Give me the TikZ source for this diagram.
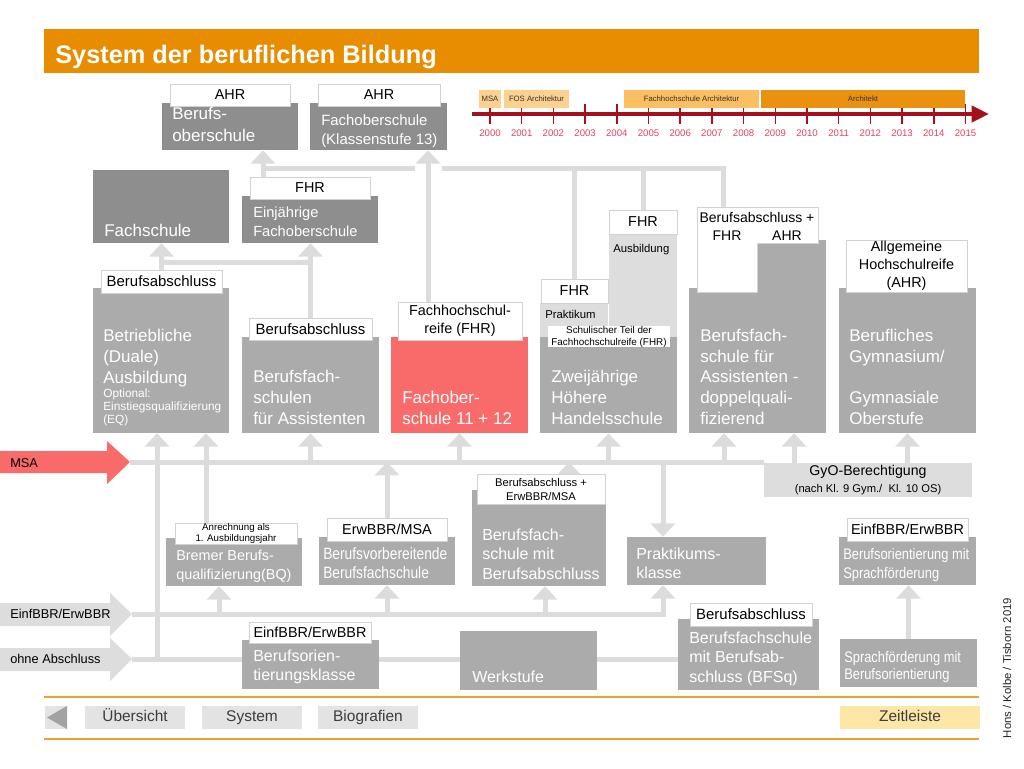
\documentclass[tikz,border=0pt]{standalone}
\usepackage{fontspec}
\setmainfont{Liberation Sans}
\newfontfamily\narrowfont[FakeStretch=0.84]{Liberation Sans}
\usetikzlibrary{arrows.meta}
\usetikzlibrary{positioning}
\usetikzlibrary{fit}
\usetikzlibrary{backgrounds}
\usetikzlibrary{calc}
\definecolor{TitleOrange}{HTML}{E88C00}
\definecolor{DarkBox}{HTML}{8E8E8E}
\definecolor{MidBox}{HTML}{ABABAB}
\definecolor{LightBox}{HTML}{DDDDDD}
\definecolor{LineGray}{HTML}{DCDCDC}
\definecolor{RedBox}{HTML}{F96B6B}
\definecolor{LabelEdge}{HTML}{D2D2D2}
\definecolor{TimeRed}{HTML}{A3121C}
\definecolor{YearRed}{HTML}{E8415A}
\definecolor{BarLight}{HTML}{FCD08E}
\definecolor{BarMid}{HTML}{FBBE60}
\definecolor{BarDark}{HTML}{EA9210}
\definecolor{NavGray}{HTML}{E3E3E3}
\definecolor{NavDark}{HTML}{A2A2A2}
\definecolor{NavYellow}{HTML}{FDE6A6}
\definecolor{NavLine}{HTML}{F0A030}
\definecolor{NavText}{HTML}{3C3C3C}
\newcommand{\fsz}[2]{\fontsize{#1}{#2}\selectfont}

\begin{document}
\begin{tikzpicture}[x=0.75pt, y=-0.75pt,
  darkbox/.style={fill=DarkBox, inner sep=0pt},
  midbox/.style={fill=MidBox, inner sep=0pt},
  lightbox/.style={fill=LightBox, inner sep=0pt},
  redbox/.style={fill=RedBox, inner sep=0pt},
  lab/.style={fill=white, draw=LabelEdge, line width=0.6pt, inner sep=0pt},
  ltext/.style={align=center, inner sep=0pt, font=\fsz{10.8}{13.2}},
  btext/.style={text=white, anchor=base west, align=left, inner sep=0pt,
    font=\fsz{12.75}{15.4}},
  stext/.style={anchor=base west, inner sep=0pt, font=\fsz{8.5}{10}},
  conn/.style={draw=LineGray, line width=3.75pt},
  arr/.style={conn, -{Triangle[width=18pt,length=10pt]}},
  bar/.style={inner sep=0pt},
  btxt/.style={inner sep=0pt, text=black!80, font=\fsz{5.8}{7}},
  navbox/.style={fill=NavGray, inner sep=0pt},
  ntext/.style={inner sep=0pt, text=NavText, font=\fsz{11.6}{13},
    text height=0.74em, text depth=0.2em},
]
  \useasboundingbox (0,0) rectangle (1024,768);

  % title
  \fill[TitleOrange] (44,29) rectangle (979,73);
  \node[anchor=base west, inner sep=0pt, text=white, font=\bfseries\fsz{19}{22}] (Title) at (55,63) {System der beruflichen Bildung};

  % timeline
  \foreach \i in {0,...,15}{%
    \pgfmathsetmacro{\tx}{490+31.7*\i}
    \pgfmathtruncatemacro{\yr}{2000+\i}
    \draw[TimeRed, line width=1.1pt] (\tx,104) -- (\tx,124);
    \node[text=YearRed, font=\fsz{7.2}{8}, inner sep=0pt] (Y\yr) at (\tx,133) {\yr};
  }
  \draw[TimeRed, line width=3pt, -{Triangle[width=12pt,length=13pt]}] (472,114) -- (989,114);
  \node[bar, fill=BarLight, fit={(479,90) (501,108)}, label={[btxt]center:MSA}] (TMSA) {};
  \node[bar, fill=BarLight, fit={(504,90) (569,108)}, label={[btxt]center:FOS Architektur}] (TFOS) {};
  \node[bar, fill=BarMid, fit={(624,90) (759,108)}, label={[btxt]center:Fachhochschule Architektur}] (TFH) {};
  \node[bar, fill=BarDark, fit={(761,90) (965,108)}, label={[btxt]center:Architekt}] (TArch) {};

  % top row
  \node[darkbox, fit={(162,103) (298,150)}] (BOS) {};
  \node[lab, fit={(170,84) (290,106)}, label={[ltext]center:AHR}] (BOSL) {};
  \node[btext, font=\fsz{12.75}{16}] (BOSt) at (172,141) {Berufs-\\oberschule};
  \node[darkbox, fit={(310,103) (447,150)}] (FOS13) {};
  \node[lab, fit={(318,84) (440,106)}, label={[ltext]center:AHR}] (FOS13L) {};
  \node[btext, font=\fsz{11.2}{14.25}] (FOS13t) at (321,144) {Fachoberschule\\(Klassenstufe 13)};
  \node[darkbox, fit={(93,170) (229,243)}] (FS) {};
  \node[btext] (FSt) at (104,236) {Fachschule};
  \node[darkbox, fit={(242,196) (378,243)}] (EFOS) {};
  \node[lab, fit={(250,177) (370,199)}, label={[ltext]center:FHR}] (EFOSL) {};
  \node[btext, font=\fsz{11}{14.25}] (EFOSt) at (253,236) {Einjährige\\Fachoberschule};

  % middle row
  \node[midbox, fit={(93,288) (229,433)}] (Duale) {};
  \node[lab, fit={(101,270) (222,293)}, label={[ltext, font=\fsz{11.2}{13}]center:Berufsabschluss}] (DualeL) {};
  \node[btext] (Dualet) at (103,383) {Betriebliche\\(Duale)\\Ausbildung};
  \node[btext, font=\fsz{8.9}{9.4}] (Duales) at (103,423) {Optional:\\Einstiegsqualifizierung\\(EQ)};
  \node[midbox, fit={(242,337) (379,433)}] (BFSAss) {};
  \node[lab, fit={(249,318) (372,340)}, label={[ltext, font=\fsz{11.2}{13}]center:Berufsabschluss}] (BFSAssL) {};
  \node[btext] (BFSAsst) at (253,424) {Berufsfach-\\schulen\\für Assistenten};
  \node[redbox, fit={(391,337) (528,433)}] (FOS) {};
  \node[lab, fit={(398,302) (522,340)}, label={[ltext]center:Fachhochschul-\\reife (FHR)}] (FOSL) {};
  \node[btext] (FOSt) at (402,424) {Fachober-\\schule 11 + 12};
  \node[midbox, fit={(540,337) (677,433)}] (HHS) {};
  \node[lightbox, fit={(540,303) (607.5,337)}] (HHSp) {};
  \node[lightbox, fit={(608.5,234) (677,337)}] (HHSa) {};
  \node[lab, fit={(541,279) (608,303)}, label={[ltext]center:FHR}] (HHSpL) {};
  \node[lab, fit={(609,210) (677,234)}, label={[ltext]center:FHR}] (HHSaL) {};
  \node[stext] (HHSpt) at (545,318) {Praktikum};
  \node[stext] (HHSat) at (613,252) {Ausbildung};
  \node[fill=white, inner sep=0pt, fit={(548,326) (670,347)},
    label={[ltext, font=\fsz{7.4}{9}]center:Schulischer Teil der\\Fachhochschulreife (FHR)}] (HHSs) {};
  \node[btext] (HHSt) at (551,424) {Zweijährige\\Höhere\\Handelsschule};
  \node[midbox, fit={(689,288) (826,433)}] (BFSdq) {};
  \fill[MidBox] (757,240) rectangle (826,290);
  \filldraw[fill=white, draw=LabelEdge, line width=0.6pt] (697,207) -- (818,207) -- (818,243)
    -- (757,243) -- (757,292) -- (697,292) -- cycle;
  \coordinate (DQtop) at (723,207);
  \node[anchor=base, inner sep=0pt, font=\fsz{10.5}{12}] (DQL) at (757,222) {Berufsabschluss +};
  \node[anchor=base, inner sep=0pt, font=\fsz{10.5}{12}] (DQLf) at (727,240) {FHR};
  \node[anchor=base, inner sep=0pt, font=\fsz{10.5}{12}] (DQLa) at (787,240) {AHR};
  \node[btext] (BFSdqt) at (700,424) {Berufsfach-\\schule für\\Assistenten -\\doppelquali-\\fizierend};
  \node[midbox, fit={(839,288) (976,433)}] (BGym) {};
  \node[lab, fit={(846,240) (967,292)}, label={[ltext, font=\fsz{10.8}{13.5}]center:Allgemeine\\Hochschulreife\\(AHR)}] (BGymL) {};
  \node[btext] (BGymt) at (849,424) {Berufliches\\Gymnasium/\\[15.4pt]Gymnasiale\\Oberstufe};

  % left entries
  \fill[RedBox] (0,451) -- (107,451) -- (107,441) -- (130,462) -- (107,484) -- (107,473) -- (0,473) -- cycle;
  \coordinate (MSAtip) at (130,462);
  \node[anchor=base west, inner sep=0pt, font=\fsz{9.6}{11}] (MSAt) at (10,467) {MSA};
  \fill[LightBox] (0,603) -- (110,603) -- (110,593) -- (132,614) -- (110,636) -- (110,626) -- (0,626) -- cycle;
  \coordinate (EINFtip) at (132,614);
  \node[anchor=base west, inner sep=0pt, font=\fsz{9.6}{11}] (EINFt) at (10,618) {EinfBBR/ErwBBR};
  \fill[LightBox] (0,648) -- (110,648) -- (110,638) -- (132,659) -- (110,681) -- (110,671) -- (0,671) -- cycle;
  \coordinate (OHNEtip) at (132,659);
  \node[anchor=base west, inner sep=0pt, font=\fsz{9.6}{11}] (OHNEt) at (10,663) {ohne Abschluss};

  \node[lightbox, fit={(764,463) (972,497)},
    label={[ltext, font=\fsz{10.6}{12.5}]center:GyO-Berechtigung\\{\fsz{8.4}{10}(nach Kl. 9 Gym./\ \ Kl. 10 OS)}}] (GyO) {};

  % lower rows
  \node[midbox, fit={(166,538) (302,586)}] (BQ) {};
  \node[lab, fit={(175,523) (297,544)}, label={[ltext, font=\fsz{7.3}{8.3}]center:Anrechnung als\\1. Ausbildungsjahr}] (BQL) {};
  \node[btext, font=\fsz{10.8}{13.9}] (BQt) at (176,579) {Bremer Berufs-\\qualifizierung(BQ)};
  \node[midbox, fit={(319,537) (455,585)}] (BvBFS) {};
  \node[lab, fit={(327,518) (447,541)}, label={[ltext]center:ErwBBR/MSA}] (BvBFSL) {};
  \node[btext, font=\narrowfont\fsz{12.3}{14.25}] (BvBFSt) at (323,578) {Berufsvorbereitende\\Berufsfachschule};
  \node[midbox, fit={(472,490) (606,586)}] (BFSmit) {};
  \node[lab, fit={(477,474) (605,504)}, label={[ltext, font=\fsz{8.4}{10.5}]center:Berufsabschluss +\\ErwBBR/MSA}] (BFSmitL) {};
  \node[btext, font=\fsz{12}{14.6}] (BFSmitt) at (482,579) {Berufsfach-\\schule mit\\Berufsabschluss};
  \node[midbox, fit={(627,537) (766,585)}] (PK) {};
  \node[btext, font=\fsz{12}{14.25}] (PKt) at (636,578) {Praktikums-\\klasse};
  \node[midbox, fit={(839,537) (976,585)}] (BOmit) {};
  \node[lab, fit={(847,518) (968,541)}, label={[ltext]center:EinfBBR/ErwBBR}] (BOmitL) {};
  \node[btext, font=\narrowfont\fsz{11.5}{14.25}] (BOmitt) at (843,578) {Berufsorientierung mit\\Sprachförderung};

  \node[midbox, fit={(242,640) (379,689)}] (BOK) {};
  \node[lab, fit={(249,622) (371,643)}, label={[ltext]center:EinfBBR/ErwBBR}] (BOKL) {};
  \node[btext, font=\fsz{12}{14.25}] (BOKt) at (253,680) {Berufsorien-\\tierungsklasse};
  \node[midbox, fit={(460,631) (597,690)}] (WS) {};
  \node[btext, font=\fsz{12}{14.25}] (WSt) at (472,682) {Werkstufe};
  \node[midbox, fit={(678,619) (819,690)}] (BFSq) {};
  \node[lab, fit={(690,603) (812,626)}, label={[ltext, font=\fsz{11.2}{13}]center:Berufsabschluss}] (BFSqL) {};
  \node[btext, font=\fsz{12}{14.6}] (BFSqt) at (689,682) {Berufsfachschule\\mit Berufsab-\\schluss (BFSq)};
  \node[midbox, fit={(840,639) (977,687)}] (SFmit) {};
  \node[btext, font=\narrowfont\fsz{11.5}{12.75}] (SFmitt) at (844,679) {Sprachförderung mit\\Berufsorientierung};

  % connectors
  \begin{scope}[on background layer]
    \coordinate (Jtop) at (263,168);
    \coordinate (GapL) at (415,168);
    \coordinate (GapR) at (442,168);
    \coordinate (Jdq) at (723,168);
    \coordinate (Xfos) at (428,0);
    \coordinate (Jfs) at (161,262);
    \draw[arr] (Jtop |- EFOSL.north) -- (Jtop |- BOS.south);
    \draw[conn] (Jtop) -- (GapL);
    \draw[conn] (GapR) -- (Jdq) -- (DQtop);
    \draw[conn] (HHSpL.north |- Jtop) -- (HHSpL.north);
    \draw[conn] (HHSaL.north |- Jtop) -- (HHSaL.north);
    \draw[arr] (Xfos |- FOSL.north) -- (Xfos |- FOS13.south);
    \draw[arr] (DualeL.north) -- (DualeL.north |- FS.south);
    \draw[arr] (BFSAssL.north) -- (BFSAssL.north |- EFOS.south);
    \draw[conn] (Jfs) -- (Jfs -| BFSAssL.north);

    \draw[conn] (MSAtip) -- (MSAtip -| GyO.west);
    \foreach \n in {BFSAss,FOS,HHS}
      \draw[arr] (MSAtip -| \n.south) -- (\n.south);
    \draw[arr] (MSAtip -| 724,0) -- (724,0 |- BFSdq.south);
    \draw[arr] (GyO.north -| 794,0) -- (794,0 |- BFSdq.south);
    \draw[arr] (GyO.north -| BGym.south) -- (BGym.south);

    \draw[arr] (206,0 |- BQL.north) -- (206,0 |- Duale.south);
    \draw[arr] (157,0 |- OHNEtip) -- (157,0 |- Duale.south);
    \draw[arr] (BvBFSL.north) -- (BvBFSL.north |- MSAtip);
    \draw[arr] (569,0 |- BFSmitL.north) -- (569,0 |- MSAtip);
    \draw[arr] (MSAtip -| 663,0) -- (663,0 |- PK.north);

    \draw[arr] (EINFtip) -| (663,0 |- PK.south);
    \foreach \n/\xx in {BQ/219, BvBFS/387, BFSmit/545}
      \draw[arr] (EINFtip -| \xx,0) -- (\xx,0 |- \n.south);
    \draw[conn] (OHNEtip) -- (OHNEtip -| BFSq.west);
    \draw[arr] (SFmit.north) -- (SFmit.north |- BOmit.south);
  \end{scope}

  % navigation
  \draw[NavLine, line width=1.5pt] (44,697) -- (979,697);
  \draw[NavLine, line width=1.5pt] (44,739) -- (979,739);
  \node[navbox, fit={(45,706) (67,729)}] (Back) {};
  \fill[NavDark] (47,717.5) -- (67,706) -- (67,729) -- cycle;
  \node[navbox, fit={(85,706) (185,729)}, label={[ntext]center:Übersicht}] (Uebersicht) {};
  \node[navbox, fit={(202,706) (302,729)}, label={[ntext]center:System}] (System) {};
  \node[navbox, fit={(318,706) (418,729)}, label={[ntext]center:Biografien}] (Biografien) {};
  \node[navbox, fill=NavYellow, fit={(840,706) (980,729)}, label={[ntext]center:Zeitleiste}] (Zeitleiste) {};

  \node[rotate=90, inner sep=0pt, text=black!85, font=\fsz{8.5}{10}] (Credit) at (1007,668) {Hons / Kolbe / Tisborn 2019};
\end{tikzpicture}
\end{document}
